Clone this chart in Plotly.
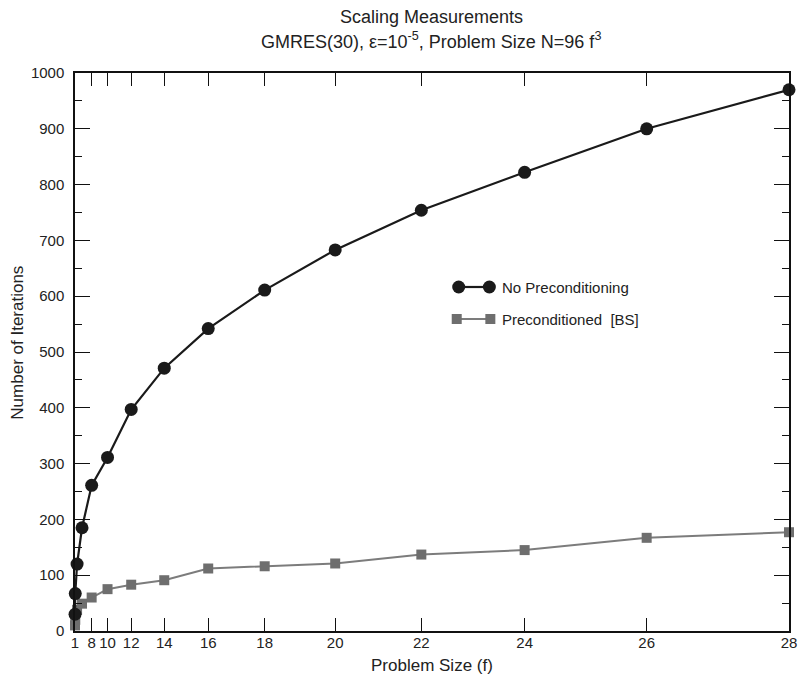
import numpy as np
import plotly.graph_objects as go

# ---- data ----
f_values = [1, 2, 4, 6, 8, 10, 12, 14, 16, 18, 20, 22, 24, 26, 28]
no_precond = [30, 67, 120, 185, 261, 311, 397, 471, 542, 611, 683, 754, 822, 900, 970]
precond_bs = [10, 20, 38, 49, 60, 75, 83, 91, 112, 116, 121, 137, 145, 167, 177]
tick_f = [1, 8, 10, 12, 14, 16, 18, 20, 22, 24, 26, 28]
series_names = ["No Preconditioning", "Preconditioned  [BS]"]

# the x axis is linear in problem size N ~ f^3, labelled with f
x_vals = np.array(f_values, dtype=float) ** 3
tick_vals = np.array(tick_f, dtype=float) ** 3

W, H = 806, 679
ML, MR, MT, MB = 75, 9, 73, 48
PW, PH = W - ML - MR, H - MT - MB

def px(x):
    return (x - ML) / PW

def py(y):
    return (H - MB - y) / PH

FONT = "Liberation Sans, Arial, Helvetica, sans-serif"
BLACK = "#1a1a1a"
GREY_M = "#6e6e6e"
GREY_L = "#7c7c7c"

fig = go.Figure()
fig.add_trace(go.Scatter(
    x=x_vals, y=precond_bs, mode="lines+markers", name=series_names[1],
    line=dict(color=GREY_L, width=2),
    marker=dict(symbol="square", size=10, color=GREY_M),
    cliponaxis=False, showlegend=False))
fig.add_trace(go.Scatter(
    x=x_vals, y=no_precond, mode="lines+markers", name=series_names[0],
    line=dict(color=BLACK, width=2.2),
    marker=dict(symbol="circle", size=13, color=BLACK),
    cliponaxis=False, showlegend=False))

axis_common = dict(
    showline=True, linecolor="#111", linewidth=1.5, mirror="ticks",
    ticks="inside", tickcolor="#111", tickwidth=1.3,
    showgrid=False, zeroline=False,
    tickfont=dict(family=FONT, size=15, color="#222"),
)

fig.update_xaxes(
    range=[0, float(tick_vals[-1])], tickmode="array", tickvals=tick_vals,
    ticktext=[str(t) for t in tick_f], ticklen=13, ticklabelstandoff=-3,
    **axis_common)
fig.update_yaxes(
    range=[0, 1000], tickmode="linear", tick0=0, dtick=100, ticklen=15,
    minor=dict(ticks="inside", dtick=50, ticklen=7, tickcolor="#111", tickwidth=1.3),
    ticklabelstandoff=6,
    **axis_common)

ann = []
ann.append(dict(text="Scaling Measurements", x=px(435), y=py(17), xref="paper", yref="paper",
                showarrow=False, xanchor="center", yanchor="middle",
                font=dict(family=FONT, size=18, color="#222")))
ann.append(dict(text="GMRES(30), \u03b5=10<sup>-5</sup>, Problem Size N=96 f<sup>3</sup>",
                x=px(435), y=py(41), xref="paper", yref="paper",
                showarrow=False, xanchor="center", yanchor="middle",
                font=dict(family=FONT, size=18, color="#222")))
ann.append(dict(text="Problem Size (f)", x=px(436), y=py(665), xref="paper", yref="paper",
                showarrow=False, xanchor="center", yanchor="middle",
                font=dict(family=FONT, size=17, color="#222")))
ann.append(dict(text="Number of Iterations", x=px(16), y=py(343), xref="paper", yref="paper",
                showarrow=False, xanchor="center", yanchor="middle", textangle=-90,
                font=dict(family=FONT, size=17, color="#222")))

shapes = []
# legend row 1: black line with circles at both ends
r1 = py(287)
shapes.append(dict(type="line", xref="paper", yref="paper", x0=px(463), x1=px(494), y0=r1, y1=r1,
                   line=dict(color=BLACK, width=2.2)))
for cx in (463, 494):
    shapes.append(dict(type="circle", xref="paper", yref="paper", xsizemode="pixel", ysizemode="pixel",
                       xanchor=px(cx), yanchor=r1, x0=-6.5, x1=6.5, y0=-6.5, y1=6.5,
                       fillcolor=BLACK, line=dict(width=0)))
ann.append(dict(text=series_names[0], x=px(505), y=r1, xref="paper", yref="paper",
                showarrow=False, xanchor="left", yanchor="middle",
                font=dict(family=FONT, size=15, color="#222")))
# legend row 2: grey line with squares
r2 = py(319)
shapes.append(dict(type="line", xref="paper", yref="paper", x0=px(461), x1=px(495), y0=r2, y1=r2,
                   line=dict(color=GREY_L, width=2)))
for cx in (461, 495):
    shapes.append(dict(type="rect", xref="paper", yref="paper", xsizemode="pixel", ysizemode="pixel",
                       xanchor=px(cx), yanchor=r2, x0=-5, x1=5, y0=-5, y1=5,
                       fillcolor=GREY_M, line=dict(width=0)))
ann.append(dict(text=series_names[1], x=px(505), y=r2, xref="paper", yref="paper",
                showarrow=False, xanchor="left", yanchor="middle",
                font=dict(family=FONT, size=15, color="#222")))

fig.update_layout(
    width=W, height=H, autosize=False,
    margin=dict(l=ML, r=MR, t=MT, b=MB, pad=0),
    paper_bgcolor="white", plot_bgcolor="white",
    showlegend=False, annotations=ann, shapes=shapes,
    font=dict(family=FONT, color="#222"),
)

fig.write_html("out.html")
